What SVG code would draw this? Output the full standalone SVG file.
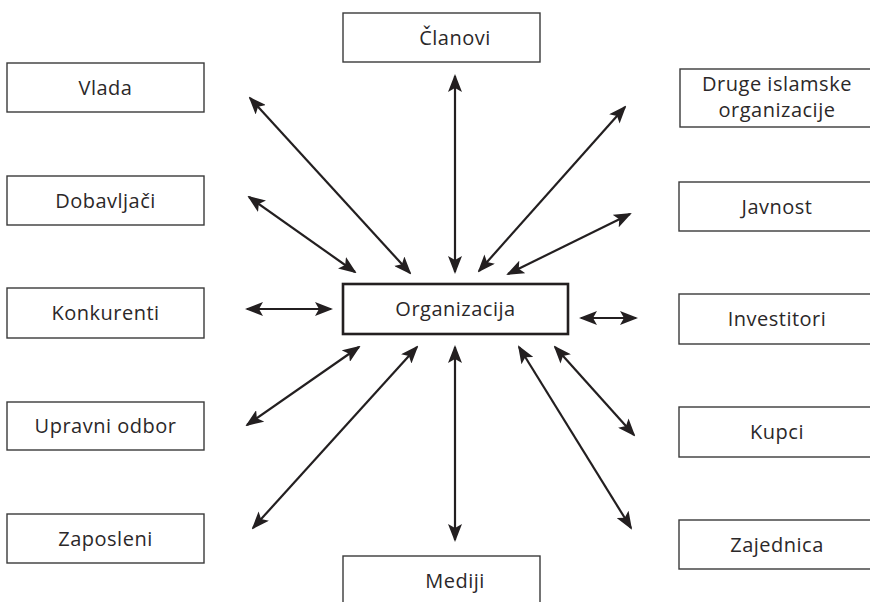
<svg xmlns="http://www.w3.org/2000/svg" width="870" height="602" viewBox="0 0 870 602">
  <style>
    .box { fill: #ffffff; stroke: #3a3a3a; stroke-width: 1.4; }
    .core { fill: #ffffff; stroke: #231f20; stroke-width: 2.6; }
    .lbl { font-family: "Open Sans", "Noto Sans", "DejaVu Sans", sans-serif; font-size: 20px; font-weight: 400; letter-spacing: 0.5px; fill: #2b2829; text-anchor: middle; }
    .link { stroke: #231f20; stroke-width: 2.2; fill: none; marker-start: url(#head); marker-end: url(#head); }
  </style>
  <defs>
    <marker id="head" viewBox="0 0 18 14" refX="16" refY="7" markerWidth="18" markerHeight="14" markerUnits="userSpaceOnUse" orient="auto-start-reverse">
      <path d="M0,0 L18,7 L0,14 L4,7 z" fill="#231f20"/>
    </marker>
  </defs>
  <rect width="870" height="602" fill="#ffffff"/>

  <!-- centre -->
  <g id="organizacija">
    <rect class="core" x="343" y="284" width="225" height="50"/>
    <text class="lbl" x="455.5" y="316">Organizacija</text>
  </g>

  <!-- top and bottom -->
  <g id="clanovi">
    <rect class="box" x="343" y="13" width="197" height="49"/>
    <text class="lbl" x="455" y="45">Članovi</text>
  </g>
  <g id="mediji">
    <rect class="box" x="343" y="556" width="197" height="60"/>
    <text class="lbl" x="455" y="588">Mediji</text>
  </g>

  <!-- left column -->
  <g id="vlada">
    <rect class="box" x="7" y="63" width="197" height="49"/>
    <text class="lbl" x="105.5" y="95">Vlada</text>
  </g>
  <g id="dobavljaci">
    <rect class="box" x="7" y="176" width="197" height="49"/>
    <text class="lbl" x="105.5" y="208">Dobavljači</text>
  </g>
  <g id="konkurenti">
    <rect class="box" x="7" y="288" width="197" height="50"/>
    <text class="lbl" x="105.5" y="320">Konkurenti</text>
  </g>
  <g id="upravni-odbor">
    <rect class="box" x="7" y="402" width="197" height="48"/>
    <text class="lbl" x="105.5" y="433">Upravni odbor</text>
  </g>
  <g id="zaposleni">
    <rect class="box" x="7" y="514" width="197" height="49"/>
    <text class="lbl" x="105.5" y="546">Zaposleni</text>
  </g>

  <!-- right column -->
  <g id="druge-islamske-organizacije">
    <rect class="box" x="680" y="69" width="197" height="58"/>
    <text class="lbl" x="777" y="91">Druge islamske</text>
    <text class="lbl" x="777" y="117">organizacije</text>
  </g>
  <g id="javnost">
    <rect class="box" x="679" y="182" width="197" height="49"/>
    <text class="lbl" x="777" y="214">Javnost</text>
  </g>
  <g id="investitori">
    <rect class="box" x="679" y="294" width="197" height="50"/>
    <text class="lbl" x="777" y="326">Investitori</text>
  </g>
  <g id="kupci">
    <rect class="box" x="679" y="407" width="197" height="50"/>
    <text class="lbl" x="777" y="439">Kupci</text>
  </g>
  <g id="zajednica">
    <rect class="box" x="679" y="520" width="197" height="49"/>
    <text class="lbl" x="777" y="552">Zajednica</text>
  </g>

  <!-- two-way links -->
  <g id="connectors">
    <line class="link" x1="455" y1="76" x2="455" y2="272"/>
    <line class="link" x1="455" y1="347" x2="455" y2="540"/>
    <line class="link" x1="250" y1="98" x2="410" y2="273"/>
    <line class="link" x1="249" y1="197" x2="355" y2="272"/>
    <line class="link" x1="247" y1="309" x2="331" y2="309"/>
    <line class="link" x1="359" y1="347" x2="247" y2="425"/>
    <line class="link" x1="417" y1="347" x2="253" y2="528"/>
    <line class="link" x1="479" y1="271" x2="625" y2="107"/>
    <line class="link" x1="508" y1="274" x2="630" y2="214"/>
    <line class="link" x1="581" y1="318" x2="636" y2="318"/>
    <line class="link" x1="555" y1="347" x2="634" y2="435"/>
    <line class="link" x1="519" y1="347" x2="631" y2="528"/>
  </g>
</svg>
